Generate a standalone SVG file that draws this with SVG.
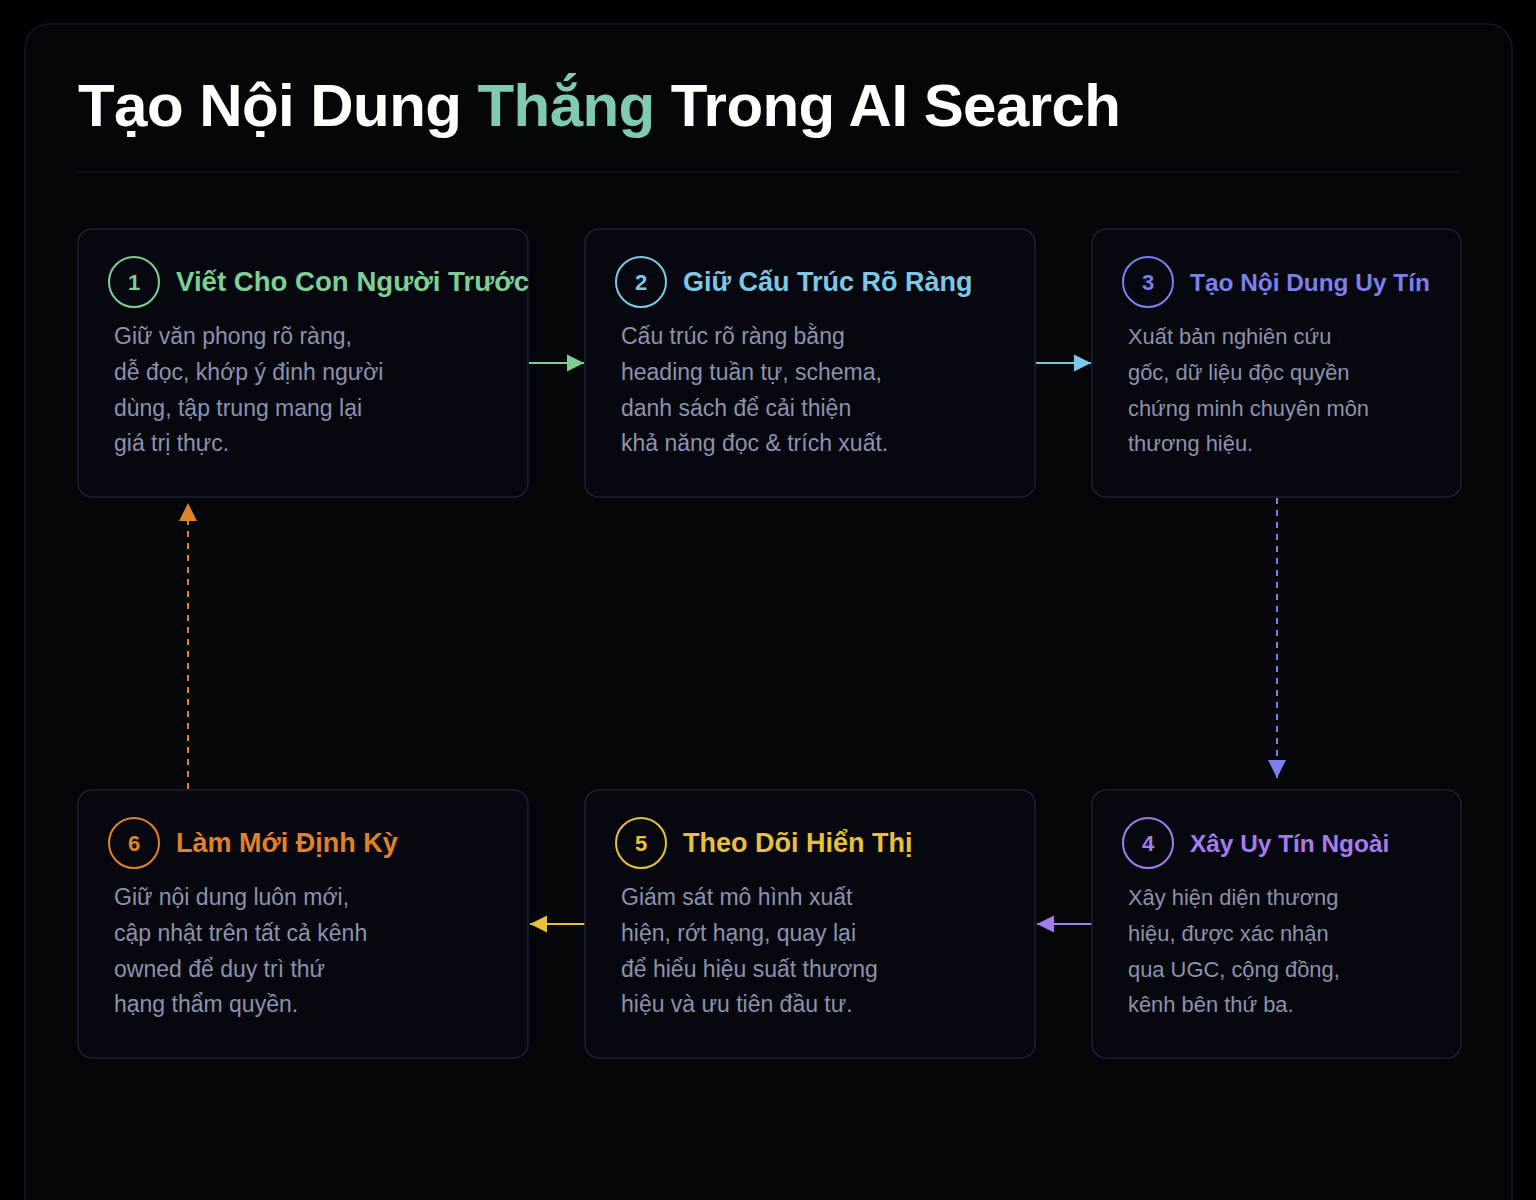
<svg xmlns="http://www.w3.org/2000/svg" width="1536" height="1200" viewBox="0 0 1536 1200">
<defs>
<style>
.node{fill:#07080f;stroke:#1b2036;stroke-width:1.5}
.num{font-family:"Liberation Sans",Arial,sans-serif;font-weight:bold;font-size:22px;text-anchor:middle}
.ttl{font-family:"Liberation Sans",Arial,sans-serif;font-weight:bold;font-size:27px}
.ttl.sm{font-size:24.4px}
.body{font-family:"Liberation Sans",Arial,sans-serif;font-size:23px;fill:#8c92ad}
.body.sm{font-size:21.9px}
.circ{fill:#07080f;stroke-width:2}
</style>
<marker id="mGreen" viewBox="0 0 10 10" refX="10" refY="5" markerWidth="17" markerHeight="18" markerUnits="userSpaceOnUse" orient="auto"><path d="M0,0 L10,5 L0,10 z" fill="#7dcf94"/></marker>
<marker id="mBlue" viewBox="0 0 10 10" refX="10" refY="5" markerWidth="17" markerHeight="18" markerUnits="userSpaceOnUse" orient="auto"><path d="M0,0 L10,5 L0,10 z" fill="#7cc8e6"/></marker>
<marker id="mIndigo" viewBox="0 0 10 10" refX="10" refY="5" markerWidth="20" markerHeight="18" markerUnits="userSpaceOnUse" orient="auto"><path d="M0,0 L10,5 L0,10 z" fill="#7c80ee"/></marker>
<marker id="mPurple" viewBox="0 0 10 10" refX="10" refY="5" markerWidth="17" markerHeight="18" markerUnits="userSpaceOnUse" orient="auto"><path d="M0,0 L10,5 L0,10 z" fill="#a57cf0"/></marker>
<marker id="mYellow" viewBox="0 0 10 10" refX="10" refY="5" markerWidth="17" markerHeight="18" markerUnits="userSpaceOnUse" orient="auto"><path d="M0,0 L10,5 L0,10 z" fill="#e9c03c"/></marker>
<marker id="mOrange" viewBox="0 0 10 10" refX="10" refY="5" markerWidth="20" markerHeight="18" markerUnits="userSpaceOnUse" orient="auto"><path d="M0,0 L10,5 L0,10 z" fill="#e0822a"/></marker>
</defs>
<rect x="0" y="0" width="1536" height="1200" fill="#000"/>
<rect x="25" y="24" width="1487" height="1220" rx="24" fill="#05060a" stroke="#141726" stroke-width="1.5"/>
<text x="78" y="126" font-family="'Liberation Sans',Arial,sans-serif" font-weight="bold" font-size="60" letter-spacing="-0.55" fill="#ffffff">Tạo Nội Dung <tspan fill="#80c9b4">Thắng</tspan> Trong AI Search</text>
<line x1="78" y1="172" x2="1461" y2="172" stroke="#11131f" stroke-width="1.5"/>

<g id="connectors" fill="none" stroke-width="2">
<line x1="529" y1="363" x2="584" y2="363" stroke="#7dcf94" marker-end="url(#mGreen)"/>
<line x1="1036" y1="363" x2="1091" y2="363" stroke="#7cc8e6" marker-end="url(#mBlue)"/>
<line x1="1277" y1="498" x2="1277" y2="778" stroke="#7c80ee" stroke-dasharray="6,6" marker-end="url(#mIndigo)"/>
<line x1="1092" y1="924" x2="1037" y2="924" stroke="#a57cf0" marker-end="url(#mPurple)"/>
<line x1="585" y1="924" x2="530" y2="924" stroke="#e9c03c" marker-end="url(#mYellow)"/>
<line x1="188" y1="789" x2="188" y2="503" stroke="#e0822a" stroke-dasharray="6,6" marker-end="url(#mOrange)"/>
</g>

<g id="node1">
<rect class="node" x="78" y="229" width="450" height="268" rx="14"/>
<circle class="circ" cx="134" cy="282" r="25" stroke="#7dcf94"/>
<text class="num" x="134" y="290" fill="#7dcf94">1</text>
<text class="ttl" x="176" y="291" fill="#7dcf94" style="font-size:27.6px">Viết Cho Con Người Trước</text>
<text class="body"><tspan x="114" y="344">Giữ văn phong rõ ràng,</tspan><tspan x="114" y="380">dễ đọc, khớp ý định người</tspan><tspan x="114" y="416">dùng, tập trung mang lại</tspan><tspan x="114" y="451">giá trị thực.</tspan></text>
</g>

<g id="node2">
<rect class="node" x="585" y="229" width="450" height="268" rx="14"/>
<circle class="circ" cx="641" cy="282" r="25" stroke="#7cc8e6"/>
<text class="num" x="641" y="290" fill="#7cc8e6">2</text>
<text class="ttl" x="683" y="291" fill="#7cc8e6">Giữ Cấu Trúc Rõ Ràng</text>
<text class="body"><tspan x="621" y="344">Cấu trúc rõ ràng bằng</tspan><tspan x="621" y="380">heading tuần tự, schema,</tspan><tspan x="621" y="416">danh sách để cải thiện</tspan><tspan x="621" y="451">khả năng đọc &amp; trích xuất.</tspan></text>
</g>

<g id="node3">
<rect class="node" x="1092" y="229" width="369" height="268" rx="14"/>
<circle class="circ" cx="1148" cy="282" r="25" stroke="#7c80ee"/>
<text class="num" x="1148" y="290" fill="#7c80ee">3</text>
<text class="ttl sm" x="1190" y="291" fill="#7c80ee">Tạo Nội Dung Uy Tín</text>
<text class="body sm"><tspan x="1128" y="344">Xuất bản nghiên cứu</tspan><tspan x="1128" y="380">gốc, dữ liệu độc quyền</tspan><tspan x="1128" y="416">chứng minh chuyên môn</tspan><tspan x="1128" y="451">thương hiệu.</tspan></text>
</g>

<g id="node4">
<rect class="node" x="1092" y="790" width="369" height="268" rx="14"/>
<circle class="circ" cx="1148" cy="843" r="25" stroke="#a57cf0"/>
<text class="num" x="1148" y="851" fill="#a57cf0">4</text>
<text class="ttl sm" x="1190" y="852" fill="#a57cf0">Xây Uy Tín Ngoài</text>
<text class="body sm"><tspan x="1128" y="905">Xây hiện diện thương</tspan><tspan x="1128" y="941">hiệu, được xác nhận</tspan><tspan x="1128" y="977">qua UGC, cộng đồng,</tspan><tspan x="1128" y="1012">kênh bên thứ ba.</tspan></text>
</g>

<g id="node5">
<rect class="node" x="585" y="790" width="450" height="268" rx="14"/>
<circle class="circ" cx="641" cy="843" r="25" stroke="#e9c03c"/>
<text class="num" x="641" y="851" fill="#e9c03c">5</text>
<text class="ttl" x="683" y="852" fill="#e9c03c">Theo Dõi Hiển Thị</text>
<text class="body"><tspan x="621" y="905">Giám sát mô hình xuất</tspan><tspan x="621" y="941">hiện, rớt hạng, quay lại</tspan><tspan x="621" y="977">để hiểu hiệu suất thương</tspan><tspan x="621" y="1012">hiệu và ưu tiên đầu tư.</tspan></text>
</g>

<g id="node6">
<rect class="node" x="78" y="790" width="450" height="268" rx="14"/>
<circle class="circ" cx="134" cy="843" r="25" stroke="#e0822a"/>
<text class="num" x="134" y="851" fill="#e0822a">6</text>
<text class="ttl" x="176" y="852" fill="#e0822a">Làm Mới Định Kỳ</text>
<text class="body"><tspan x="114" y="905">Giữ nội dung luôn mới,</tspan><tspan x="114" y="941">cập nhật trên tất cả kênh</tspan><tspan x="114" y="977">owned để duy trì thứ</tspan><tspan x="114" y="1012">hạng thẩm quyền.</tspan></text>
</g>
</svg>
